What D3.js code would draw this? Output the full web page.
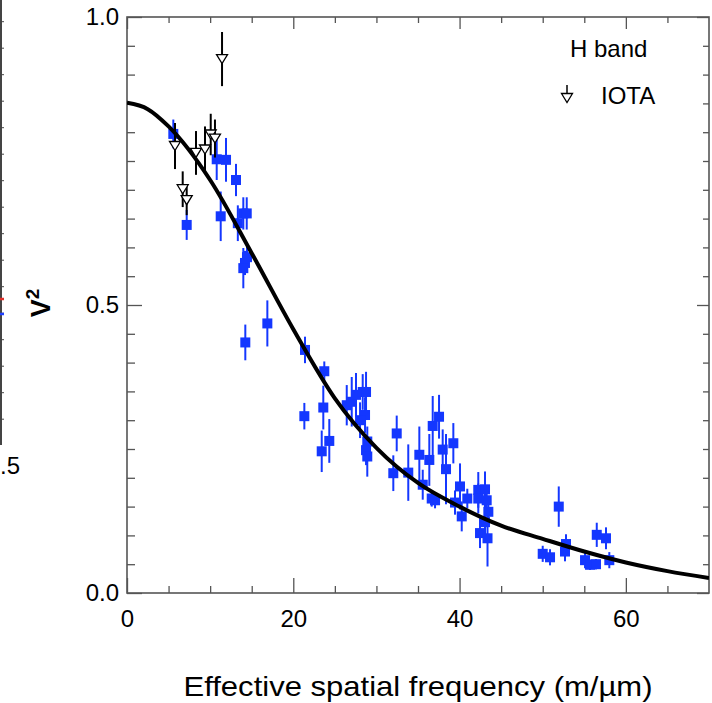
<!DOCTYPE html>
<html><head><meta charset="utf-8">
<script src="https://cdn.jsdelivr.net/npm/d3@7"></script>
<style>
html,body{margin:0;padding:0;background:#fff;}
svg{display:block;font-family:"Liberation Sans",Arial,Helvetica,sans-serif;}
</style></head>
<body>
<svg id="chart" width="712" height="703"></svg>
<script>
// ---- data ----
// blue squares: spatial frequency, V^2, error
const blueX   = [5.57,7.18,10.79,11.91,13.11,11.27,13.33,13.99,14.40,14.43,14.19,13.99,16.88,14.23,21.41,23.73,23.61,21.33,24.33,23.42,26.43,27.03,27.54,28.35,28.75,28.63,28.03,28.90,28.75,28.90,32.44,32.03,33.83,35.16,36.36,35.57,36.77,37.53,37.97,39.25,38.37,36.65,37.05,40.05,39.45,40.93,40.26,42.25,43.06,42.25,43.26,43.46,42.46,43.36,43.06,51.93,50.00,50.88,52.80,52.68,55.09,55.69,56.41,56.50,57.61,58.01];
const blueV   = [0.797,0.639,0.753,0.752,0.717,0.654,0.642,0.659,0.659,0.583,0.573,0.564,0.468,0.435,0.422,0.385,0.322,0.307,0.264,0.246,0.326,0.332,0.344,0.349,0.349,0.309,0.300,0.263,0.248,0.237,0.277,0.208,0.209,0.240,0.231,0.188,0.290,0.306,0.249,0.260,0.215,0.164,0.161,0.185,0.157,0.164,0.133,0.179,0.180,0.164,0.161,0.141,0.104,0.095,0.123,0.150,0.068,0.062,0.085,0.072,0.057,0.049,0.050,0.101,0.095,0.057];
const blueErr = [0.025,0.026,0.036,0.038,0.028,0.043,0.031,0.028,0.028,0.021,0.021,0.035,0.040,0.031,0.023,0.017,0.038,0.023,0.038,0.036,0.035,0.043,0.038,0.031,0.035,0.031,0.031,0.026,0.026,0.035,0.031,0.031,0.049,0.049,0.045,0.026,0.052,0.038,0.035,0.035,0.061,0.014,0.014,0.040,0.021,0.017,0.026,0.031,0.031,0.026,0.026,0.026,0.026,0.049,0.021,0.035,0.014,0.014,0.017,0.017,0.014,0.009,0.009,0.021,0.019,0.014];
// IOTA points (open triangles)
const iotaX   = [5.77,6.70,7.18,8.30,9.38,10.07,10.58,11.43];
const iotaV   = [0.776,0.701,0.682,0.764,0.770,0.796,0.789,0.927];
const iotaErr = [0.040,0.031,0.026,0.038,0.040,0.036,0.033,0.047];
// model curve
const curveX = [0,2.5,5,10,15,20,25,30,35,40,45,50,55,60,65,70];
const curveV = [0.851,0.840,0.810,0.717,0.590,0.458,0.338,0.252,0.191,0.150,0.117,0.094,0.072,0.053,0.038,0.026];
// ticks
const xMajor = [0,20,40,60];
const xMinor = [5,10,15,25,30,35,45,50,55,65];
const yMajor = [0,0.5,1.0];
const yMinor = [0.05,0.1,0.15,0.2,0.25,0.3,0.35,0.4,0.45,0.55,0.6,0.65,0.7,0.75,0.8,0.85,0.9,0.95];
const xLabel = "Effective spatial frequency (m/\u00b5m)";
const legendTitle = "H band";
const legendIota = "IOTA";

// ---- drawing ----
const svg = d3.select("#chart");
const L=127, R=709, T=17, B=593;
const x = d3.scaleLinear().domain([0,70]).range([L,R]);
const y = d3.scaleLinear().domain([0,1]).range([B,T]);
const blue = "#1437ff";
const frameCol = "#555";

// remnant of the neighbouring panel at left edge
const rem = svg.append("g");
rem.append("line").attr("x1",1).attr("x2",1).attr("y1",0).attr("y2",445).attr("stroke","#444").attr("stroke-width",2);
d3.range(16).forEach(i=>{
  const yy = 21.7 + i*26.5;
  rem.append("line").attr("x1",0).attr("x2",4).attr("y1",yy).attr("y2",yy).attr("stroke","#444").attr("stroke-width",1);
});
rem.append("line").attr("x1",0).attr("x2",4).attr("y1",299).attr("y2",299).attr("stroke","#e0302a").attr("stroke-width",2.5);
rem.append("line").attr("x1",0).attr("x2",4).attr("y1",314).attr("y2",314).attr("stroke","#2040ff").attr("stroke-width",2.5);
rem.append("text").attr("x",0).attr("y",474).attr("font-size",24).text(".5");

// axes
function styleAxis(g){
  g.select(".domain").remove();
  g.selectAll(".tick line").attr("stroke",frameCol).attr("stroke-width",1.3);
  g.selectAll("text").attr("font-size",24).attr("fill","#000").attr("font-family","Liberation Sans, Arial, sans-serif");
}
svg.append("g").attr("transform",`translate(0,${B})`)
  .call(d3.axisBottom(x).tickValues(xMajor).tickSize(-15).tickPadding(17).tickFormat(d3.format("d"))).call(styleAxis);
svg.append("g").attr("transform",`translate(0,${B})`)
  .call(d3.axisBottom(x).tickValues(xMinor).tickSize(-7).tickFormat("")).call(styleAxis);
svg.append("g").attr("transform",`translate(0,${T})`)
  .call(d3.axisTop(x).tickValues(xMajor).tickSize(-12).tickFormat("")).call(styleAxis);
svg.append("g").attr("transform",`translate(0,${T})`)
  .call(d3.axisTop(x).tickValues(xMinor).tickSize(-6).tickFormat("")).call(styleAxis);
svg.append("g").attr("transform",`translate(${L},0)`)
  .call(d3.axisLeft(y).tickValues(yMajor).tickSize(-15).tickPadding(8).tickFormat(d3.format(".1f"))).call(styleAxis);
svg.append("g").attr("transform",`translate(${L},0)`)
  .call(d3.axisLeft(y).tickValues(yMinor).tickSize(-8).tickFormat("")).call(styleAxis);
svg.append("g").attr("transform",`translate(${R},0)`)
  .call(d3.axisRight(y).tickValues(yMajor).tickSize(-12).tickFormat("")).call(styleAxis);
svg.append("g").attr("transform",`translate(${R},0)`)
  .call(d3.axisRight(y).tickValues(yMinor).tickSize(-6).tickFormat("")).call(styleAxis);

svg.append("rect").attr("x",L).attr("y",T).attr("width",R-L).attr("height",B-T)
  .attr("fill","none").attr("stroke",frameCol).attr("stroke-width",1.6);

// clip
svg.append("clipPath").attr("id","clip").append("rect").attr("x",L).attr("y",T).attr("width",R-L).attr("height",B-T);
const plot = svg.append("g").attr("clip-path","url(#clip)");

// blue points
const blueData = blueX.map((d,i)=>({x:d,v:blueV[i],e:blueErr[i]}));
plot.append("g").selectAll("line").data(blueData).join("line")
  .attr("x1",d=>x(d.x)).attr("x2",d=>x(d.x))
  .attr("y1",d=>y(d.v-d.e)).attr("y2",d=>y(d.v+d.e))
  .attr("stroke",blue).attr("stroke-width",2);
plot.append("g").selectAll("rect").data(blueData).join("rect")
  .attr("x",d=>x(d.x)-5).attr("y",d=>y(d.v)-5).attr("width",10).attr("height",10)
  .attr("fill",blue);

// curve
const curveData = curveX.map((d,i)=>({x:d,v:curveV[i]}));
plot.append("path").datum(curveData)
  .attr("d",d3.line().x(d=>x(d.x)).y(d=>y(d.v)).curve(d3.curveMonotoneX))
  .attr("fill","none").attr("stroke","#000").attr("stroke-width",4);

// IOTA triangles
const iotaData = iotaX.map((d,i)=>({x:d,v:iotaV[i],e:iotaErr[i]}));
plot.append("g").selectAll("line").data(iotaData).join("line")
  .attr("x1",d=>x(d.x)).attr("x2",d=>x(d.x))
  .attr("y1",d=>y(d.v-d.e)).attr("y2",d=>y(d.v+d.e))
  .attr("stroke","#000").attr("stroke-width",2);
const tri = "M-5.5,-4.5L5.5,-4.5L0,4.5Z";
plot.append("g").selectAll("path").data(iotaData).join("path")
  .attr("d",tri).attr("transform",d=>`translate(${x(d.x)},${y(d.v)})`)
  .attr("fill","#fff").attr("stroke","#000").attr("stroke-width",1.3);

// legend
svg.append("text").attr("x",570).attr("y",57).attr("font-size",24).attr("fill","#000").text(legendTitle);
svg.append("line").attr("x1",567).attr("x2",567).attr("y1",85).attr("y2",97).attr("stroke","#000").attr("stroke-width",1.5);
svg.append("path").attr("d",tri).attr("transform","translate(567,98)")
  .attr("fill","#fff").attr("stroke","#000").attr("stroke-width",1.3);
svg.append("text").attr("x",601).attr("y",104).attr("font-size",24).attr("fill","#000").text(legendIota);

// axis titles
svg.append("text").attr("x",418).attr("y",696).attr("text-anchor","middle").attr("font-size",28)
  .attr("textLength",469).attr("lengthAdjust","spacingAndGlyphs").attr("fill","#000").text(xLabel);
const yl = svg.append("text").attr("transform","translate(50,303) rotate(-90)").attr("text-anchor","middle")
  .attr("font-size",27).attr("font-weight","bold").attr("fill","#000");
yl.append("tspan").text("V");
yl.append("tspan").attr("font-size",19).attr("dy",-11).text("2");
</script>
</body></html>
